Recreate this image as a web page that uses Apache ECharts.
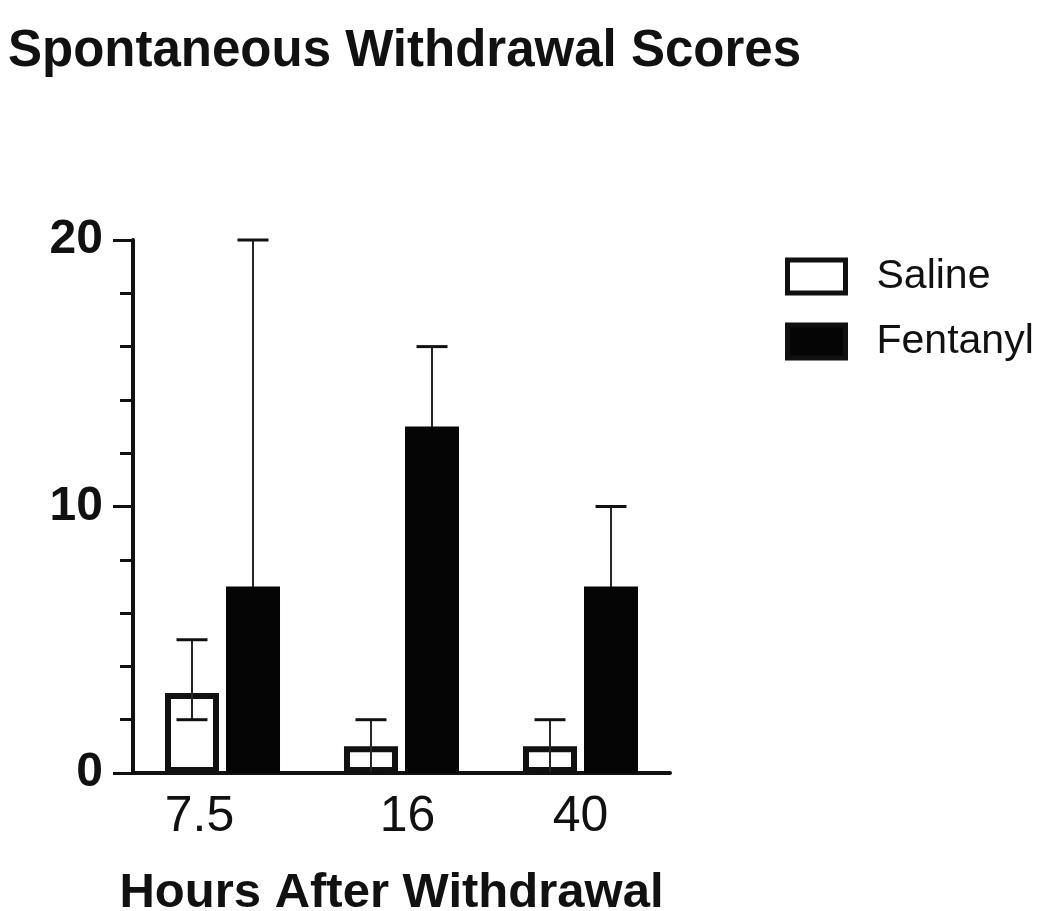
<!DOCTYPE html>
<html>
<head>
<meta charset="utf-8">
<script src="https://cdn.jsdelivr.net/npm/echarts@6/dist/echarts.min.js"></script>
<style>html,body{margin:0;padding:0;background:#fff}#c{width:1050px;height:911px}</style>
</head>
<body>
<div id="c"></div>
<script>
// ---- data ----
const categories = ['7.5', '16', '40'];
const salineMean = [3, 1, 1];
const salineLow = [2, 0, 0];
const salineHigh = [5, 2, 2];
const fentanylMean = [7, 13, 7];
const fentanylLow = [0, 10, 4];
const fentanylHigh = [20, 16, 10];
const yTicks = [0, 10, 20];

// ---- style ----
const FONT = '"Liberation Sans", Arial, Helvetica, sans-serif';
const BAR_W = 54;
const BORDER = 6;
const GAP_PCT = 0.13;
const OFFSET = (BAR_W + BAR_W * GAP_PCT) / 2;
const CAP_HALF = 15.5;
const LABEL_SHIFT = { '7.5': -23, '16': 6 };

function errSeries(name, low, high, sign, z) {
  return {
    type: 'custom',
    name: name + ' err',
    z: z,
    silent: true,
    data: categories.map((c, i) => [i, low[i], high[i]]),
    encode: { x: 0, y: [1, 2] },
    renderItem: function (params, api) {
      const i = api.value(0);
      const lo = api.coord([i, api.value(1)]);
      const hi = api.coord([i, api.value(2)]);
      const x = lo[0] + sign * OFFSET;
      return {
        type: 'group',
        children: [
          { type: 'line', shape: { x1: x, y1: lo[1], x2: x, y2: hi[1] }, style: { stroke: '#262626', lineWidth: 2 } },
          { type: 'line', shape: { x1: x - CAP_HALF, y1: hi[1], x2: x + CAP_HALF, y2: hi[1] }, style: { stroke: '#111', lineWidth: 3 } },
          { type: 'line', shape: { x1: x - CAP_HALF, y1: lo[1], x2: x + CAP_HALF, y2: lo[1] }, style: { stroke: '#111', lineWidth: 3 } }
        ]
      };
    }
  };
}

const rich = {};
Object.keys(LABEL_SHIFT).forEach((k, n) => {
  const s = LABEL_SHIFT[k];
  rich['s' + n] = {
    fontFamily: FONT, fontSize: 50, color: '#111',
    padding: s < 0 ? [0, -2 * s, 0, 0] : [0, 0, 0, 2 * s]
  };
});

const chart = echarts.init(document.getElementById('c'), null, { renderer: 'canvas' });
chart.setOption({
  animation: false,
  backgroundColor: '#fff',
  title: {
    text: 'Spontaneous Withdrawal Scores',
    left: 3, top: 21,
    textStyle: { fontFamily: FONT, fontSize: 51, fontWeight: 'bold', color: '#111' }
  },
  legend: {
    orient: 'vertical',
    left: 785, top: 256,
    padding: 0,
    icon: 'rect',
    itemWidth: 58, itemHeight: 33, itemGap: 24,
    itemStyle: { borderWidth: 5, borderColor: '#111' },
    data: ['Saline', 'Fentanyl'],
    textStyle: { fontFamily: FONT, fontSize: 41, color: '#111', padding: [0, 0, 0, 26] }
  },
  grid: { left: 133, right: 380, top: 240, bottom: 138, outerBoundsMode: 'none', containLabel: false },
  xAxis: {
    type: 'category',
    data: categories,
    name: 'Hours After Withdrawal',
    nameLocation: 'middle',
    nameGap: 96,
    nameTextStyle: { fontFamily: FONT, fontSize: 49, fontWeight: 'bold', color: '#111', padding: [0, 20, 0, 0] },
    axisLine: { lineStyle: { color: '#111', width: 4 } },
    axisTick: { show: false },
    axisLabel: {
      interval: 0,
      hideOverlap: false,
      fontFamily: FONT, fontSize: 50, color: '#111', margin: 19,
      formatter: function (v) {
        const keys = Object.keys(LABEL_SHIFT);
        const n = keys.indexOf(v);
        return n >= 0 ? '{s' + n + '|' + v + '}' : v;
      },
      rich: rich
    }
  },
  yAxis: {
    type: 'value',
    min: yTicks[0], max: yTicks[yTicks.length - 1], interval: 10,
    axisLine: { show: true, lineStyle: { color: '#111', width: 4 } },
    axisTick: { show: true, length: 20, lineStyle: { color: '#111', width: 3 } },
    minorTick: { show: true, splitNumber: 5, length: 13, lineStyle: { color: '#111', width: 3 } },
    splitLine: { show: false },
    axisLabel: { fontFamily: FONT, fontSize: 48, fontWeight: 'bold', color: '#111', margin: 30 }
  },
  series: [
    {
      name: 'Saline', type: 'bar', data: salineMean,
      barWidth: BAR_W, barGap: (GAP_PCT * 100) + '%',
      itemStyle: { color: '#fff', borderColor: '#111', borderWidth: BORDER }
    },
    {
      name: 'Fentanyl', type: 'bar', data: fentanylMean,
      barWidth: BAR_W, barGap: (GAP_PCT * 100) + '%',
      itemStyle: { color: '#050505', borderColor: '#050505', borderWidth: BORDER }
    },
    errSeries('Saline', salineLow, salineHigh, -1, 5),
    errSeries('Fentanyl', fentanylLow, fentanylHigh, 1, 1)
  ]
});
</script>
</body>
</html>
